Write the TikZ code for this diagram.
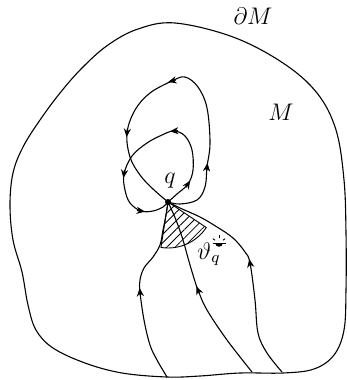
\documentclass[tikz,border=0pt]{standalone}
\usetikzlibrary{arrows.meta,patterns.meta}
\begin{document}
\begin{tikzpicture}[x=0.5pt,y=-0.5pt,
  >={Stealth[length=4.2pt,width=3.6pt]},
  curve/.style={line width=0.55pt},
  lab/.style={inner sep=0pt,font=\large}]
\newcommand\tipat[3]{\draw[curve,-{>}] (#1,#2) ++(#3:-4) -- ++(#3:8);}
\useasboundingbox (0,0) rectangle (347,380);
% boundary
\draw[curve] plot[smooth cycle, tension=0.6] coordinates {(175,23) (233,37) (283,63) (317,93) (336,130) (344,180) (346,233) (346,290) (344,330) (334,355) (314,369) (283,373) (240,373) (200,376) (167,377) (122,373) (85,363) (53,348) (36,330) (28,305) (22,272) (13,240) (10,205) (13,173) (23,147) (40,120) (60,93) (82,68) (108,45) (138,29)};
\node[circle,fill,inner sep=0pt,minimum size=3pt] (q) at (168,202) {};
% hatched sector
\draw[line width=0.45pt,pattern={Lines[angle=45,distance=3pt,line width=0.4pt]}] (q.center) -- ++(98.8:46) arc[start angle=98.8,end angle=33.7,radius=46] -- cycle;
% outer loop
\draw[curve] plot[smooth,tension=0.6] coordinates {(q.center) (180,204) (197,200) (205,187) (207,167) (210,143) (207,108) (198,87) (185,77) (172,81) (150,93) (135,110) (127,133) (130,157) (140,175) (153,189) (q.center)};
\tipat{207}{167}{-84}
\tipat{172}{81}{165}
\tipat{127}{133}{95}
% inner loop
\draw[curve] plot[smooth,tension=0.6] coordinates {(q.center) (177,194) (188,184) (193,170) (192,150) (185,136) (174,131) (162,135) (147,143) (132,156) (124,174) (125,190) (130,203) (141,211) (153,211) (163,207) (q.center)};
\tipat{188}{184}{-58}
\tipat{174}{131}{176}
\tipat{124}{174}{98}
\tipat{141}{211}{8}
% bottom curves
\draw[curve] plot[smooth,tension=0.6] coordinates {(167,377) (157,360) (150,345) (144,320) (140,292) (140,280) (144,268) (153,257) (160,245) (163,230) (166,215) (q.center)};
\tipat{140}{292}{-95}
\draw[curve] plot[smooth,tension=0.6] coordinates {(252,372) (227,340) (207,310) (198,290) (193,275) (188,258) (183,240) (176,220) (q.center)};
\tipat{198}{290}{-112}
\draw[curve] plot[smooth,tension=0.6] coordinates {(282,372) (267,353) (258,333) (255,300) (250,263) (245,252) (233,238) (217,227) (200,217) (180,208) (q.center)};
\tipat{250}{263}{-100}
% labels
\node[lab] (ql) at (170,181) {$q$};
\node[lab] (dM) at (253,16) {$\partial M$};
\node[lab] (M) at (281,112) {$M$};
\node[lab,anchor=base west] (th) at (197,259) {$\vartheta_q$};
% sunrise symbol
\coordinate (sun) at (219,243);
\fill (sun) ++(-3.8,0) arc[start angle=180,end angle=0,radius=3.8] -- cycle;
\draw[line width=0.45pt] (sun) ++(-6.5,0) -- ++(13,0);
\foreach \a in {-90,-35,-145} \draw[line width=0.45pt] (sun) ++(\a:4.8) -- ++(\a:2.8);
\end{tikzpicture}
\end{document}
